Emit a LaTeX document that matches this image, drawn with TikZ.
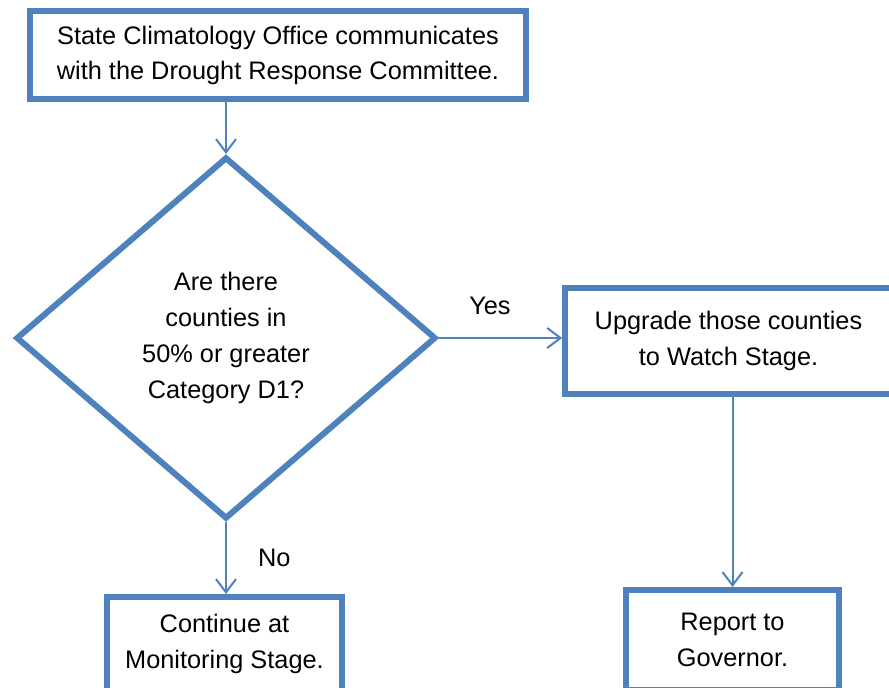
\documentclass[tikz,border=0pt]{standalone}
\usepackage{fontspec}
\setmainfont{Liberation Sans}
\usetikzlibrary{
    positioning,
    arrows.meta,
    shapes.geometric
}
\definecolor{flowBlue}{RGB}{79, 129, 189}

\begin{document}
\begin{tikzpicture}[x=0.75pt, y=-0.75pt,
    box/.style={draw=flowBlue, line width=4.5pt, fill=white, align=center,
        inner sep=0pt, font=\fontsize{19}{26.5}\selectfont},
    decision/.style={diamond, draw=flowBlue, line width=4.5pt, fill=white,
        align=center, inner sep=0pt, font=\fontsize{19}{27}\selectfont},
    link/.style={draw=flowBlue, line width=1.5pt,
        -{Straight Barb[length=10pt, width=15pt]}},
    tag/.style={font=\fontsize{19}{22}\selectfont}
]
    \clip (0,0) rectangle (889,688);
    \fill[white] (0,0) rectangle (889,688);

    % Kästen
    \node[box, minimum width=372pt, minimum height=66pt] (office) at (278,55)
        {\raisebox{-4pt}{\begin{tabular}{@{}c@{}}State Climatology Office communicates\\with the Drought Response Committee.\end{tabular}}};
    \node[decision, minimum width=315pt, minimum height=271.5pt] (check) at (226,338)
        {Are there\\counties in\\50\% or greater\\Category D1?};
    \node[box, minimum width=245pt, minimum height=79.5pt] (watch) at (728.5,341)
        {Upgrade those counties\\to Watch Stage.};
    \node[box, minimum width=176pt, minimum height=70.5pt] (monitor) at (224.5,644)
        {Continue at\\Monitoring Stage.};
    \node[box, minimum width=160pt, minimum height=75pt] (governor) at (732.5,640)
        {Report to\\Governor.};

    % Pfeile
    \draw[link] (office.south -| check.north) -- (check.north);
    \draw[link] (check.east) -- (check.east -| watch.west)
        node[tag, midway, above=13pt, xshift=-8pt] {Yes};
    \draw[link] (check.south) -- (check.south |- monitor.north)
        node[tag, midway, right=20pt] {No};
    \draw[link] (watch.south -| governor.north) -- (governor.north);
\end{tikzpicture}
\end{document}
